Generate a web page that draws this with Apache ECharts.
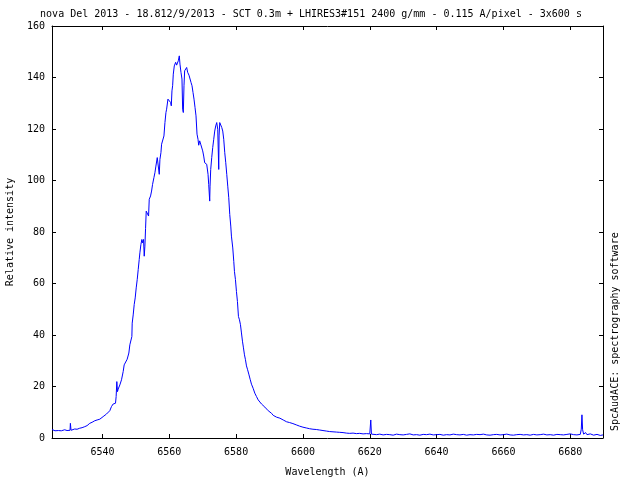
<!DOCTYPE html>
<html>
<head>
<meta charset="utf-8">
<script src="https://cdn.jsdelivr.net/npm/echarts@6/dist/echarts.min.js"></script>
<style>html,body{margin:0;padding:0;background:#fff}#c{width:640px;height:480px}</style>
</head>
<body>
<div id="c"></div>
<script>
// ---- data (wavelength in A, relative intensity) ----
const titleText = "nova Del 2013 - 18.812/9/2013 - SCT 0.3m + LHIRES3#151 2400 g/mm - 0.115 A/pixel - 3x600 s";
const xName = "Wavelength (A)";
const yName = "Relative intensity";
const sideNote = "SpcAudACE: spectrography software";
const xMin = 6524.9, xMax = 6689.8;
const xTicks = [6540, 6560, 6580, 6600, 6620, 6640, 6660, 6680];
const yMin = 0, yMax = 160, yStep = 20;

const blueWing = [
 [6524.9,3.3],[6525.3,2.6],[6525.8,2.8],[6526.3,2.5],[6526.8,2.9],[6527.2,3.1],[6527.7,2.8],[6528.2,3.0],
 [6528.7,3.2],[6529.1,2.7],[6529.4,2.9],[6529.9,3.1],[6530.3,3.0],[6530.4,5.7],[6530.6,3.0],[6531.0,3.3],
 [6531.7,3.5],[6532.4,3.4],[6533.2,3.8],[6533.9,4.0],[6534.7,4.4],[6535.4,4.8],[6536.2,5.7],[6536.9,6.1],
 [6537.7,6.7],[6538.4,7.0],[6539.2,7.3],[6539.7,7.9],[6540.2,8.3],[6540.7,8.9],[6541.2,9.3],[6541.7,10.0],
 [6542.2,10.6],[6542.7,12.2],[6543.2,13.2],[6543.9,13.5],[6544.1,16.1],[6544.3,21.9],[6544.5,18.0],
 [6544.7,19.0],[6545.2,20.6],[6545.7,22.6],[6546.2,25.8],[6546.5,28.4],[6546.9,29.1],[6547.4,30.6],
 [6547.9,33.0],[6548.2,36.2],[6548.5,35.5],[6548.8,39.4],[6548.9,44.6],[6549.2,47.8],[6549.5,51.8],
 [6549.8,54.4],[6550.1,58.3],[6550.4,61.5],[6550.7,65.4],[6551.0,69.3],[6551.2,71.9],[6551.5,75.1],
 [6551.8,77.1],[6552.0,75.8],[6552.3,77.1],[6552.5,70.6],[6552.7,74.5],[6552.9,81.3],[6553.1,88.1],
 [6553.4,88.2],[6553.5,88.8],[6553.8,86.2],[6554.0,92.7],[6554.4,94.0],[6554.7,95.9],[6555.0,98.5],
 [6555.4,101.1],[6555.7,103.0],[6556.0,105.6],[6556.4,108.9],[6556.7,108.2],[6557.0,102.4],[6557.2,108.2],
 [6557.5,110.8],[6557.7,114.1],[6558.0,114.7],[6558.4,117.3],[6558.7,122.5],[6559.0,126.4],[6559.2,127.7],
 [6559.6,131.6],[6560.0,132.2],[6560.4,130.3],[6560.6,129.0],[6560.8,134.8],[6561.0,136.8],[6561.2,141.3]
];
const lineCore = [
 [6561.5,144.5],[6561.9,145.9],[6562.2,144.8],[6562.5,145.2],[6562.7,146.5],[6563.0,148.4],[6563.2,145.2],
 [6563.5,142.0],[6563.8,139.4],[6564.0,127.7],[6564.2,126.4],[6564.4,136.8],[6564.6,142.6],[6564.9,143.3],
 [6565.2,143.9],[6565.5,142.0],[6565.8,142.6],[6565.9,140.9],[6566.2,141.3],[6566.5,138.1],[6566.8,136.8],
 [6567.1,134.2],[6567.4,131.6],[6567.7,128.4],[6568.0,125.1],[6568.3,118.0],[6568.6,116.0],[6568.8,113.7],
 [6569.1,115.4],[6569.4,114.1],[6569.7,113.4],[6570.0,111.5],[6570.3,109.5],[6570.6,106.9],[6570.9,106.3],
 [6571.2,106.3],[6571.5,105.6],[6571.6,102.4],[6571.8,98.5],[6572.1,92.0],[6572.2,97.8],[6572.4,104.3],
 [6572.7,108.9],[6573.0,112.8],[6573.3,116.0],[6573.6,119.2],[6573.9,121.2],[6574.2,122.5],[6574.5,119.9],
 [6574.8,104.3],[6574.9,117.3],[6575.1,122.5],[6575.4,123.1],[6575.7,120.6],[6576.0,119.2],[6576.3,116.0]
];
const redWing = [
 [6576.6,110.8],[6576.9,106.9],[6577.2,102.4],[6577.5,97.8],[6577.8,93.3],[6578.1,86.8],[6578.4,82.3],
 [6578.6,78.4],[6579.0,73.8],[6579.3,68.6],[6579.5,64.7],[6579.8,61.5],[6580.1,56.9],[6580.4,53.0],
 [6580.7,47.2],[6581.0,45.9],[6581.3,44.0],[6581.6,40.8],[6581.9,37.6],[6582.2,35.0],[6582.5,32.3],
 [6582.8,30.4],[6583.1,28.0],[6583.4,26.7],[6583.8,24.8],[6584.2,22.8],[6584.6,20.9],[6585.1,19.3],
 [6585.6,17.4],[6586.1,16.1],[6586.6,14.8],[6587.1,14.1],[6587.6,13.2],[6588.1,12.8],[6588.6,12.0],
 [6589.1,11.4],[6589.6,10.6],[6590.1,10.2],[6590.6,9.6],[6591.1,8.8],[6591.6,8.4],[6592.1,8.1],
 [6592.6,7.9],[6593.1,7.7],[6593.6,7.3],[6594.1,7.0],[6595.1,6.3],[6596.0,6.0],[6597.0,5.6],[6598.0,5.1],
 [6599.0,4.6],[6600.0,4.2],[6601.0,3.9],[6602.0,3.6],[6603.0,3.4],[6604.0,3.3],[6605.0,3.1],[6606.0,2.9],
 [6607.0,2.7],[6608.0,2.5],[6609.0,2.4],[6610.0,2.3],[6611.0,2.2],[6612.0,2.1],[6613.0,1.9],[6614.0,1.8],
 [6615.0,1.9],[6616.0,1.7],[6617.0,1.8],[6618.0,1.6],[6619.0,1.7],[6620.0,1.6]
];
const continuum = [
 [6620.3,7.0],[6620.5,1.5],[6621,1.4],[6622,1.3],[6623,1.5],[6624,1.2],[6625,1.4],[6626,1.3],[6627,1.1],
 [6628,1.5],[6629,1.3],[6630,1.2],[6631,1.4],[6632,1.6],[6633,1.2],[6634,1.3],[6635,1.1],[6636,1.4],
 [6637,1.3],[6638,1.5],[6639,1.2],[6640,1.3],[6641,1.4],[6642,1.1],[6643,1.3],[6644,1.2],[6645,1.5],
 [6646,1.3],[6647,1.2],[6648,1.4],[6649,1.1],[6650,1.3],[6651,1.2],[6652,1.4],[6653,1.3],[6654,1.5],
 [6655,1.2],[6656,1.1],[6657,1.3],[6658,1.4],[6659,1.2],[6660,1.3],[6661,1.5],[6662,1.2],[6663,1.1],
 [6664,1.3],[6665,1.4],[6666,1.2],[6667,1.3],[6668,1.1],[6669,1.4],[6670,1.2],[6671,1.3],[6672,1.5],
 [6673,1.2],[6674,1.3],[6675,1.1],[6676,1.4],[6677,1.3],[6678,1.2],[6679,1.4],[6680,1.6],[6681,1.3],
 [6682,1.2],[6683.0,1.4],[6683.3,3.4],[6683.5,9.0],[6683.7,3.2],[6684.0,1.5],[6684.6,2.1],[6685.0,1.3],
 [6686.0,1.6],[6686.5,2.0],[6687.0,1.1],[6688.0,1.4],[6689.0,1.0],[6689.8,1.2]
];

const spectrum = blueWing.concat(lineCore, redWing, continuum);

const FONT = "DejaVu Sans Mono";
const txt = {color:'#000', fontFamily:FONT, fontSize:10};

const chart = echarts.init(document.getElementById('c'), null, {renderer:'canvas'});
chart.setOption({
  animation:false,
  backgroundColor:'#fff',
  grid:{left:52, right:37, top:26, bottom:42, containLabel:false, outerBoundsMode:'none'},
  xAxis:[{
    type:'value', min:xMin, max:xMax, position:'bottom',
    axisLine:{show:true, onZero:false, lineStyle:{color:'#000', width:1}},
    axisTick:{show:true, inside:true, length:4, customValues:xTicks, lineStyle:{color:'#000'}},
    axisLabel:Object.assign({show:true, margin:9, customValues:xTicks, formatter:v => String(v)}, txt),
    splitLine:{show:false},
    name:xName, nameLocation:'middle', nameGap:29, nameTextStyle:txt
  },{
    type:'value', min:xMin, max:xMax, position:'top',
    axisLine:{show:true, onZero:false, lineStyle:{color:'#000', width:1}},
    axisTick:{show:true, inside:true, length:4, customValues:xTicks, lineStyle:{color:'#000'}},
    axisLabel:{show:false}, splitLine:{show:false}
  }],
  yAxis:[{
    type:'value', min:yMin, max:yMax, interval:yStep, position:'left',
    axisLine:{show:true, onZero:false, lineStyle:{color:'#000', width:1}},
    axisTick:{show:true, inside:true, length:4, lineStyle:{color:'#000'}},
    axisLabel:Object.assign({show:true, margin:7, formatter:v => String(v)}, txt),
    splitLine:{show:false},
    name:yName, nameLocation:'middle', nameGap:37, nameRotate:90, nameTextStyle:txt
  },{
    type:'value', min:yMin, max:yMax, interval:yStep, position:'right',
    axisLine:{show:true, onZero:false, lineStyle:{color:'#000', width:1}},
    axisTick:{show:true, inside:true, length:4, lineStyle:{color:'#000'}},
    axisLabel:{show:false}, splitLine:{show:false}
  }],
  graphic:[
    {type:'text', x:311, y:14, style:{text:titleText, fill:'#000', font:'10px "DejaVu Sans Mono"', align:'center', verticalAlign:'middle'}},
    {type:'text', x:615, y:431, rotation:Math.PI/2,
     style:{text:sideNote, fill:'#000', font:'10px "DejaVu Sans Mono"', align:'left', verticalAlign:'middle'}}
  ],
  series:[{
    type:'line', xAxisIndex:0, yAxisIndex:0, data:spectrum,
    showSymbol:false, symbol:'none', smooth:false, clip:true,
    lineStyle:{color:'#0000ff', width:1}
  }]
});
</script>
</body>
</html>
